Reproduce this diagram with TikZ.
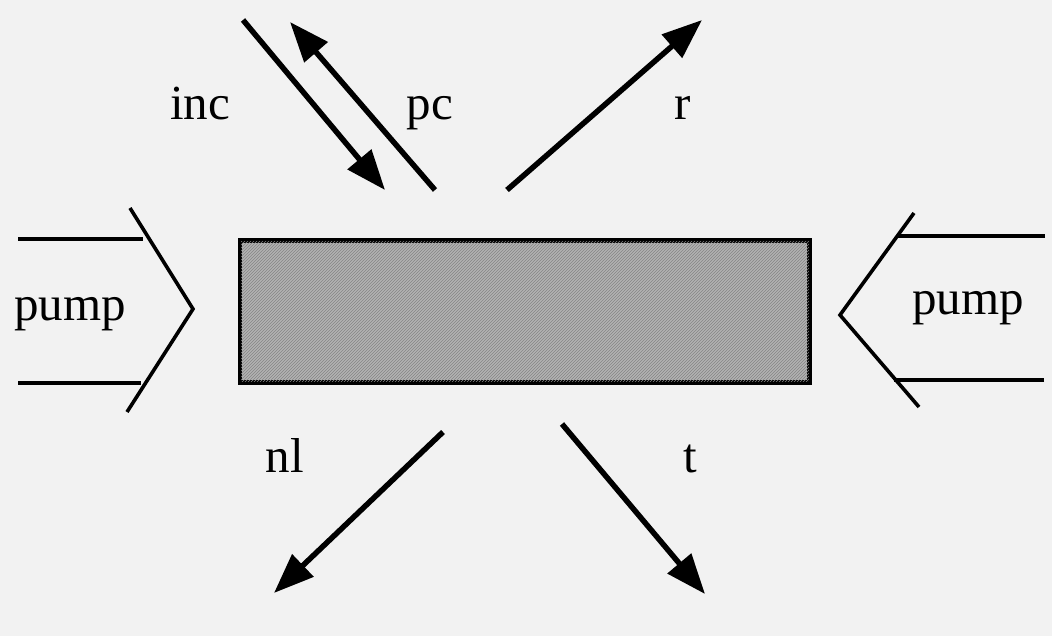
\documentclass[tikz,border=0pt]{standalone}
\usepackage{fontspec}
\setmainfont{Liberation Serif}
\usetikzlibrary{arrows.meta,patterns}
\definecolor{paper}{gray}{0.95}
\tikzset{
  lbl/.style={font=\fontsize{49}{55}\selectfont, inner sep=0pt, anchor=base},
  beam/.style={line width=5.5pt, -{Triangle[length=40pt,width=30pt]}},
  pumpline/.style={line width=3.6pt},
}
\begin{document}
\begin{tikzpicture}[x=1pt,y=-1pt]
\fill[paper] (0,0) rectangle (1052,636);
\useasboundingbox (0,0) rectangle (1052,636);
% sample
\node[draw=black, line width=3pt, fill=black!30, minimum width=568pt, minimum height=140pt, inner sep=0pt, anchor=north west] (s) at (239,240) {};
\fill[pattern=north east lines, pattern color=black!48] (s.north west) rectangle (s.south east);
\draw[line width=3pt] (s.north west) rectangle (s.south east);
% left pump
\coordinate (lt1) at (18,239); \coordinate (lt2) at (143,239);
\coordinate (lb1) at (18,383); \coordinate (lb2) at (141,383);
\coordinate (lc1) at (130,208); \coordinate (ltip) at (193,309); \coordinate (lc2) at (127,412);
\draw[pumpline] (lt1) -- (lt2);
\draw[pumpline] (lb1) -- (lb2);
\draw[pumpline, line join=miter] (lc1) -- (ltip) -- (lc2);
\node[lbl] (lpump) at (70,320) {pump};
% right pump
\coordinate (rt1) at (1045,236); \coordinate (rt2) at (898,236);
\coordinate (rb1) at (1044,380); \coordinate (rb2) at (894,380);
\coordinate (rc1) at (914,213); \coordinate (rtip) at (840,315); \coordinate (rc2) at (919,407);
\draw[pumpline] (rt1) -- (rt2);
\draw[pumpline] (rb1) -- (rb2);
\draw[pumpline, line join=miter] (rc1) -- (rtip) -- (rc2);
\node[lbl] (rpump) at (968,315) {pump};
% beams
\coordinate (incS) at (243,20); \coordinate (incE) at (385,190);
\coordinate (pcS) at (435,190); \coordinate (pcE) at (290,22);
\coordinate (rS) at (507,190); \coordinate (rE) at (702,20);
\coordinate (nlS) at (443,432); \coordinate (nlE) at (274,593);
\coordinate (tS) at (562,424); \coordinate (tE) at (705,594);
\draw[beam] (incS) -- (incE);
\draw[beam] (pcS) -- (pcE);
\draw[beam] (rS) -- (rE);
\draw[beam] (nlS) -- (nlE);
\draw[beam] (tS) -- (tE);
% labels
\node[lbl] (inc) at (200,120) {inc};
\node[lbl] (pc) at (430,120) {pc};
\node[lbl] (r) at (683,120) {r};
\node[lbl] (nl) at (285,472) {nl};
\node[lbl] (t) at (690,472) {t};
\end{tikzpicture}
\end{document}
